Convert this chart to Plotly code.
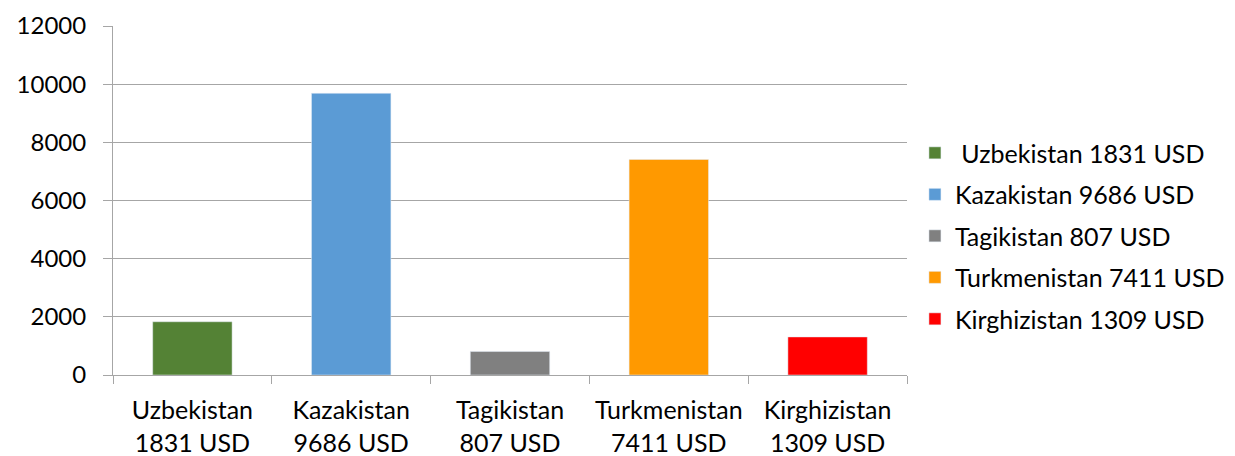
import plotly.graph_objects as go

categories = ["Uzbekistan", "Kazakistan", "Tagikistan", "Turkmenistan", "Kirghizistan"]
values = [1831, 9686, 807, 7411, 1309]
tick_labels = ["Uzbekistan<br>1831 USD", "Kazakistan<br>9686 USD", "Tagikistan<br>807 USD",
               "Turkmenistan<br>7411 USD", "Kirghizistan<br>1309 USD"]
legend_names = [" Uzbekistan 1831 USD", "Kazakistan 9686 USD", "Tagikistan 807 USD",
                "Turkmenistan 7411 USD", "Kirghizistan 1309 USD"]
colors = ["#548235", "#5b9bd5", "#808080", "#ff9900", "#ff0000"]

fig = go.Figure()
for c, v, n, col in zip(categories, values, legend_names, colors):
    fig.add_trace(go.Bar(x=[c], y=[v], name=n, legendgroup=c, marker_color=col, width=0.5))

font = "Lato, 'Open Sans', sans-serif"
fig.update_layout(
    barmode="relative",
    width=1235, height=456,
    margin=dict(l=105, r=336, t=18, b=89, autoexpand=False),
    paper_bgcolor="white", plot_bgcolor="white",
    font=dict(family=font, size=24, color="black"),
    legend=dict(x=1.01, y=0.398, yanchor="middle", xanchor="left",
                font=dict(size=25), itemwidth=30, tracegroupgap=6),
    showlegend=True,
)
fig.update_xaxes(
    tickmode="array", tickvals=categories, ticktext=tick_labels,
    tickson="boundaries", ticks="outside", ticklen=8, tickcolor="#a6a6a6",
    showline=True, linecolor="#a6a6a6", linewidth=1, showgrid=False,
    automargin=False, ticklabelstandoff=13, tickfont=dict(size=25), tickangle=0,
)
fig.update_yaxes(
    range=[0, 12000], dtick=2000, tickformat="d",
    ticks="outside", ticklen=9, tickcolor="#a6a6a6",
    showgrid=True, gridcolor="#a6a6a6", gridwidth=1,
    showline=True, linecolor="#a6a6a6", linewidth=1, zeroline=False,
    automargin=False, ticklabelstandoff=12, tickfont=dict(size=24),
)
fig.write_html("out.html")
